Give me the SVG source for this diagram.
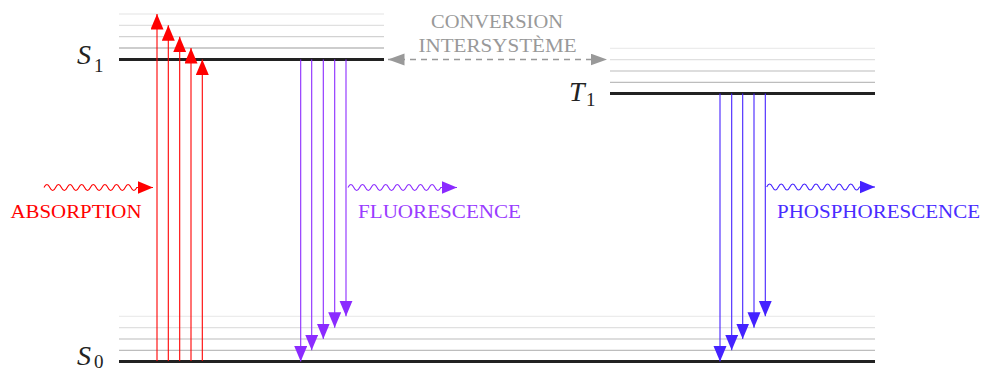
<svg xmlns="http://www.w3.org/2000/svg" width="981" height="372" viewBox="0 0 981 372">
<style>
.lvl{stroke:#222;stroke-width:3;fill:none}
.s1{stroke:#ececec;stroke-width:1.3}
.s2{stroke:#e0e0e0;stroke-width:1.3}
.s3{stroke:#d2d2d2;stroke-width:1.3}
.s4{stroke:#bdbdbd;stroke-width:1.3}
.lab{font-family:"Liberation Serif",serif;font-style:italic;font-size:28px;fill:#222}
.sub{font-family:"Liberation Serif",serif;font-size:19px;fill:#222}
.cap{font-family:"Liberation Serif",serif;font-size:18px}
.red{stroke:#ff0000;stroke-width:1.1;fill:none}
.pur{stroke:#8b2bff;stroke-width:1.1;fill:none}
.blu{stroke:#4422ff;stroke-width:1.1;fill:none}
.gry{stroke:#999;stroke-width:1.3;fill:none;stroke-dasharray:6 5}
</style>
<defs>
<marker id="hr" markerUnits="userSpaceOnUse" markerWidth="16" markerHeight="14" refX="15.5" refY="6.5" orient="auto"><path d="M0,0 L15.5,6.5 L0,13 z" fill="#ff0000"/></marker>
<marker id="hp" markerUnits="userSpaceOnUse" markerWidth="16" markerHeight="14" refX="15.5" refY="6.5" orient="auto"><path d="M0,0 L15.5,6.5 L0,13 z" fill="#8b2bff"/></marker>
<marker id="hb" markerUnits="userSpaceOnUse" markerWidth="16" markerHeight="14" refX="15.5" refY="6.5" orient="auto"><path d="M0,0 L15.5,6.5 L0,13 z" fill="#4422ff"/></marker>
<marker id="hg" markerUnits="userSpaceOnUse" markerWidth="17" markerHeight="13" refX="16.5" refY="6" orient="auto-start-reverse"><path d="M0,0 L16.5,6 L0,12 z" fill="#999"/></marker>
</defs>

<g id="S1">
<line class="s1" x1="119" y1="14" x2="384" y2="14"/>
<line class="s2" x1="119" y1="25.3" x2="384" y2="25.3"/>
<line class="s3" x1="119" y1="36.7" x2="384" y2="36.7"/>
<line class="s4" x1="119" y1="48" x2="384" y2="48"/>
<line class="lvl" x1="119" y1="59.5" x2="384" y2="59.5"/>
<text class="lab" x="77" y="64">S</text><text class="sub" x="94" y="71.5">1</text>
</g>

<g id="T1">
<line class="s1" x1="610" y1="48.3" x2="875" y2="48.3"/>
<line class="s2" x1="610" y1="59.7" x2="875" y2="59.7"/>
<line class="s3" x1="610" y1="71" x2="875" y2="71"/>
<line class="s4" x1="610" y1="82.3" x2="875" y2="82.3"/>
<line class="lvl" x1="610" y1="93.5" x2="875" y2="93.5"/>
<text class="lab" x="569" y="100.5">T</text><text class="sub" x="586" y="106">1</text>
</g>

<g id="S0">
<line class="s1" x1="119" y1="316.3" x2="875" y2="316.3"/>
<line class="s2" x1="119" y1="327.7" x2="875" y2="327.7"/>
<line class="s3" x1="119" y1="339" x2="875" y2="339"/>
<line class="s4" x1="119" y1="350.3" x2="875" y2="350.3"/>
<line class="lvl" x1="119" y1="361.5" x2="875" y2="361.5"/>
<text class="lab" x="77" y="365">S</text><text class="sub" x="94" y="367.5">0</text>
</g>

<g id="labels">
<text class="cap" x="10.5" y="217.5" fill="#ff0000" textLength="131" lengthAdjust="spacingAndGlyphs">ABSORPTION</text>
<text class="cap" x="358" y="217.5" fill="#9a3cff" textLength="163" lengthAdjust="spacingAndGlyphs">FLUORESCENCE</text>
<text class="cap" x="777" y="217.5" fill="#4a2cff" textLength="203" lengthAdjust="spacingAndGlyphs">PHOSPHORESCENCE</text>
<text class="cap" x="431" y="28" fill="#999" textLength="132" lengthAdjust="spacingAndGlyphs">CONVERSION</text>
<text class="cap" x="418.5" y="51.5" fill="#999" textLength="158" lengthAdjust="spacingAndGlyphs">INTERSYSTÈME</text>
</g>

<g id="connectors">
<line class="red" x1="157" y1="361" x2="157" y2="14" marker-end="url(#hr)"/>
<line class="red" x1="168.3" y1="361" x2="168.3" y2="25.3" marker-end="url(#hr)"/>
<line class="red" x1="179.7" y1="361" x2="179.7" y2="36.7" marker-end="url(#hr)"/>
<line class="red" x1="191" y1="361" x2="191" y2="48" marker-end="url(#hr)"/>
<line class="red" x1="202.3" y1="361" x2="202.3" y2="59.5" marker-end="url(#hr)"/>

<line class="pur" x1="300.7" y1="59.5" x2="300.7" y2="361.5" marker-end="url(#hp)"/>
<line class="pur" x1="311.7" y1="59.5" x2="311.7" y2="350.3" marker-end="url(#hp)"/>
<line class="pur" x1="323.3" y1="59.5" x2="323.3" y2="339" marker-end="url(#hp)"/>
<line class="pur" x1="334.7" y1="59.5" x2="334.7" y2="327.7" marker-end="url(#hp)"/>
<line class="pur" x1="346" y1="59.5" x2="346" y2="316.3" marker-end="url(#hp)"/>

<line class="blu" x1="720" y1="93.5" x2="720" y2="361.5" marker-end="url(#hb)"/>
<line class="blu" x1="731.7" y1="93.5" x2="731.7" y2="350.3" marker-end="url(#hb)"/>
<line class="blu" x1="742.7" y1="93.5" x2="742.7" y2="339" marker-end="url(#hb)"/>
<line class="blu" x1="754" y1="93.5" x2="754" y2="327.7" marker-end="url(#hb)"/>
<line class="blu" x1="765.3" y1="93.5" x2="765.3" y2="316.3" marker-end="url(#hb)"/>

<line class="gry" x1="388" y1="59.5" x2="607" y2="59.5" marker-start="url(#hg)" marker-end="url(#hg)"/>

<path class="red" d="M44,187.5 q2.9,-6 5.8,0 t5.8,0 t5.8,0 t5.8,0 t5.8,0 t5.8,0 t5.8,0 t5.8,0 t5.8,0 t5.8,0 t5.8,0 t5.8,0 t5.8,0 t5.8,0 t5.8,0 t5.8,0 H153" marker-end="url(#hr)"/>
<path class="pur" d="M348,187.5 q2.9,-6 5.8,0 t5.8,0 t5.8,0 t5.8,0 t5.8,0 t5.8,0 t5.8,0 t5.8,0 t5.8,0 t5.8,0 t5.8,0 t5.8,0 t5.8,0 t5.8,0 t5.8,0 t5.8,0 H457" marker-end="url(#hp)"/>
<path class="blu" d="M766.7,187 q2.9,-6 5.8,0 t5.8,0 t5.8,0 t5.8,0 t5.8,0 t5.8,0 t5.8,0 t5.8,0 t5.8,0 t5.8,0 t5.8,0 t5.8,0 t5.8,0 t5.8,0 t5.8,0 t5.8,0 H875" marker-end="url(#hb)"/>
</g>
</svg>
